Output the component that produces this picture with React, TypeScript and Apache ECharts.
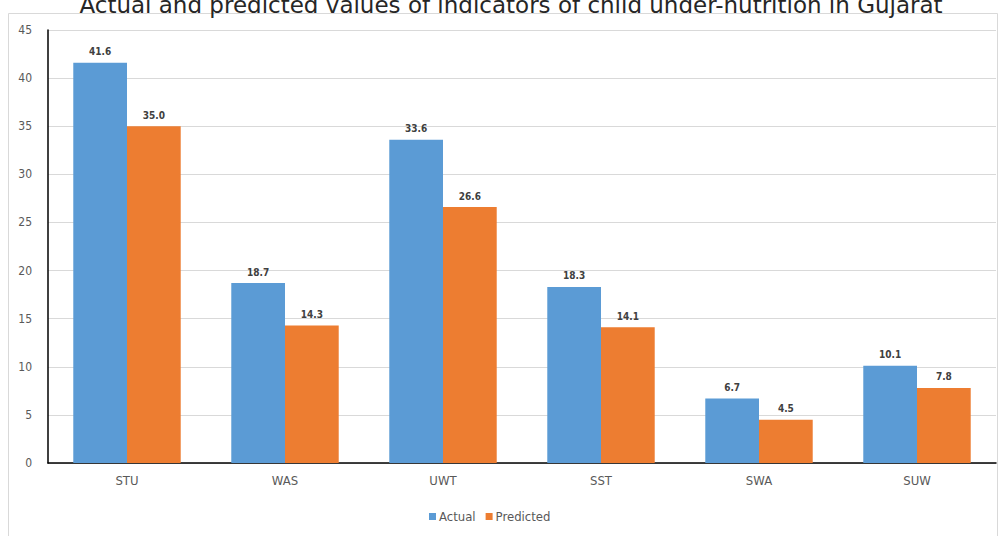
import React, { useEffect, useRef } from "react";
import * as echarts from "echarts";

const categories = ["STU", "WAS", "UWT", "SST", "SWA", "SUW"];
const actual = [41.6, 18.7, 33.6, 18.3, 6.7, 10.1];
const predicted = [35.0, 14.3, 26.6, 14.1, 4.5, 7.8];
const seriesNames = ["Actual", "Predicted"];
const yTicks = { min: 0, max: 45, interval: 5 };

const FONT = "'DejaVu Sans Condensed', 'Liberation Sans Narrow', 'Liberation Sans', sans-serif";

export default function App() {
  const ref = useRef<HTMLDivElement>(null);

  useEffect(() => {
    if (!ref.current) return;
    const chart = echarts.init(ref.current, null, { renderer: "svg" });
    const labelStyle = {
      show: true,
      position: "top" as const,
      distance: 6,
      formatter: (p: any) => Number(p.value).toFixed(1),
      color: "#404040",
      fontFamily: FONT,
      fontSize: 10,
      fontWeight: "bold" as const,
    };
    chart.setOption({
      animation: false,
      backgroundColor: "#ffffff",
      title: {
        text: "Actual and predicted values of indicators of child under-nutrition in Gujarat",
        left: 506,
        textAlign: "center",
        top: -12,
        textStyle: {
          fontFamily: "'DejaVu Sans', sans-serif",
          fontWeight: "normal",
          fontSize: 23,
          color: "#262626",
        },
      },
      graphic: [
        {
          type: "rect",
          shape: { x: 8.5, y: 13.5, width: 989, height: 540 },
          style: { fill: "none", stroke: "#d9d9d9", lineWidth: 1 },
          silent: true,
          z: -1,
        },
      ],
      legend: {
        data: seriesNames,
        bottom: 8,
        left: 424,
        itemWidth: 7,
        itemHeight: 7,
        itemGap: 10,
        icon: "rect",
        textStyle: { fontFamily: FONT, fontSize: 13, color: "#595959", padding: [0, 0, 0, -2] },
      },
      grid: { left: 48, right: 5, top: 30, bottom: 73, containLabel: false },
      xAxis: {
        type: "category",
        data: categories,
        axisLine: { lineStyle: { color: "#000000", width: 1.5 } },
        axisTick: { show: false },
        axisLabel: { color: "#595959", fontFamily: FONT, fontSize: 13, margin: 11 },
      },
      yAxis: {
        type: "value",
        min: yTicks.min,
        max: yTicks.max,
        interval: yTicks.interval,
        axisLine: { show: true, lineStyle: { color: "#000000", width: 1.5 } },
        axisTick: { show: false },
        splitLine: { lineStyle: { color: "#d9d9d9", width: 1 } },
        axisLabel: { color: "#595959", fontFamily: FONT, fontSize: 12, margin: 16 },
      },
      series: [
        {
          name: seriesNames[0],
          type: "bar",
          data: actual,
          barGap: "0%",
          barCategoryGap: "32%",
          itemStyle: { color: "#5B9BD5" },
          label: labelStyle,
        },
        {
          name: seriesNames[1],
          type: "bar",
          data: predicted,
          itemStyle: { color: "#ED7D31" },
          label: labelStyle,
        },
      ],
    });
    return () => chart.dispose();
  }, []);

  return <div ref={ref} style={{ width: 1001, height: 536, position: "absolute", left: 0, top: 0 }} />;
}
